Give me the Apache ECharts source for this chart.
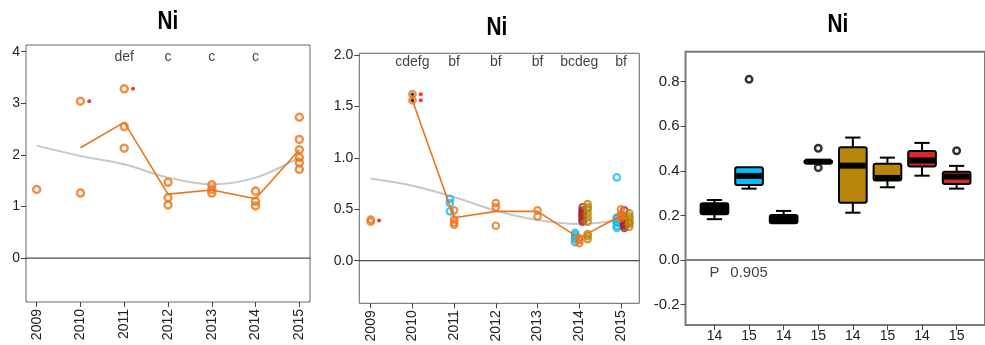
<!DOCTYPE html>
<html><head><meta charset="utf-8">
<script src="https://cdn.jsdelivr.net/npm/echarts@6/dist/echarts.min.js"></script>
<style>html,body{margin:0;padding:0;background:#fff}#c{width:985px;height:345px}</style>
</head><body><div id="c"></div><script>
// ---------- DATA ----------
const years = [2009, 2010, 2011, 2012, 2013, 2014, 2015];
// Panel 1
const p1Ticks = [0, 1, 2, 3, 4];
const p1Points = [[2009,1.33],[2010,3.04],[2010,1.26],[2011,3.28],[2011,2.55],[2011,2.13],
  [2012,1.47],[2012,1.17],[2012,1.03],[2013,1.42],[2013,1.33],[2013,1.26],
  [2014,1.30],[2014,1.10],[2014,1.01],[2015,2.73],[2015,2.30],[2015,2.10],[2015,1.95],[2015,1.85],[2015,1.72]];
const p1RedDots = [[2010,3.04],[2011,3.28]];
const p1Mean = [[2010,2.14],[2011,2.63],[2012,1.24],[2013,1.32],[2014,1.15],[2015,2.10]];
const p1Smooth = [[2009,2.18],[2010,1.98],[2011,1.82],[2012,1.56],[2013,1.43],[2014,1.56],[2015,1.95]];
const p1LetterYears = [2011, 2012, 2013, 2014];
const p1Letters = ['def', 'c', 'c', 'c'];
// Panel 2
const p2Ticks = [0, 0.5, 1.0, 1.5, 2.0];
const p2Orange = [[2009,0.38],[2009,0.40],[2010,1.62],[2010,1.56],[2011,0.49],[2011,0.40],[2011,0.37],[2011,0.35],
  [2012,0.56],[2012,0.52],[2012,0.34],[2013,0.49],[2013,0.43],[2014,0.22],[2014,0.20],[2014,0.17],
  [2015,0.50],[2015,0.45],[2015,0.44],[2015,0.44],[2015,0.415]];
const p2Blue = [[2011,0.60],[2011,0.56],[2011,0.48],[2014,0.27],[2014,0.25],[2014,0.23],[2014,0.21],[2014,0.18],
  [2015,0.81],[2015,0.42],[2015,0.41],[2015,0.38],[2015,0.37],[2015,0.34],[2015,0.32]];
const p2DarkRed = [[2014,0.38],[2014,0.40],[2014,0.42],[2014,0.44],[2014,0.45],[2014,0.47],[2014,0.49],[2014,0.52],
  [2015,0.49],[2015,0.42],[2015,0.40],[2015,0.37],[2015,0.36],[2015,0.35],[2015,0.34],[2015,0.32]];
const p2Gold = [[2014,0.55],[2014,0.52],[2014,0.50],[2014,0.46],[2014,0.42],[2014,0.38],[2014,0.26],[2014,0.24],[2014,0.21],
  [2015,0.46],[2015,0.43],[2015,0.41],[2015,0.38],[2015,0.37],[2015,0.36],[2015,0.33]];
const p2RedDots = [[2009,0.39],[2010,1.62],[2010,1.56]];
const p2BlackDots = [[2010,1.62],[2010,1.56]];
const p2Mean = [[2010,1.56],[2011,0.418],[2012,0.48],[2013,0.48],[2014,0.22],[2015,0.44]];
const p2Smooth = [[2009,0.80],[2010,0.73],[2011,0.62],[2012,0.486],[2013,0.396],[2014,0.357],[2015,0.396]];
const p2LetterYears = [2010, 2011, 2012, 2013, 2014, 2015];
const p2Letters = ['cdefg', 'bf', 'bf', 'bf', 'bcdeg', 'bf'];
// Panel 3
const p3Cats = ['14', '15', '14', '15', '14', '15', '14', '15'];
const p3Ticks = [-0.2, 0, 0.2, 0.4, 0.6, 0.8];
// [min, q1, median, q3, max]
const p3Box = [
  [0.183, 0.205, 0.230, 0.254, 0.269],
  [0.320, 0.336, 0.377, 0.416, 0.416],
  [0.165, 0.165, 0.185, 0.202, 0.220],
  [0.435, 0.436, 0.441, 0.447, 0.448],
  [0.212, 0.257, 0.423, 0.505, 0.549],
  [0.326, 0.356, 0.368, 0.431, 0.459],
  [0.378, 0.419, 0.446, 0.489, 0.525],
  [0.320, 0.341, 0.374, 0.396, 0.422]
];
const p3Outliers = [[2,0.81],[4,0.501],[4,0.414],[8,0.49]];
const p3Note = ['P', '0.905'];

// ---------- STYLE ----------
const FONT = '"Liberation Sans", Arial, sans-serif';
const ORANGE = '#EC7418', BLUE = '#1AB6EC', DRED = '#A8262E', GOLD = '#B8860B', RED = '#D42A2A';
const p3Fill = ['#000', '#00BFFF', '#000', '#000', GOLD, GOLD, RED, RED];
const offs = {blue: -0.1, orange: 0, dred: 0.08, gold: 0.2, red: 0.2};
const shift = (arr, d) => arr.map(([x, y]) => [x + d, y]);
const X1 = [2008.756, 2015.244], X2 = [2008.727, 2015.439], X3 = [0.163, 8.82];

const chart = echarts.init(document.getElementById('c'));

function xYearAxis(gi, r) {
  return {type:'value', gridIndex:gi, min:r[0], max:r[1],
    axisLine:{show:false, onZero:false}, splitLine:{show:false},
    axisTick:{show:true, length:5, lineStyle:{color:'#444'}, customValues: years},
    axisLabel:{rotate:90, margin:7, fontSize:14, color:'#222', fontFamily:FONT, customValues: years, formatter: v => String(Math.round(v))}};
}
function yAxis(gi, min, max, ticks, fmt, fs) {
  return {type:'value', gridIndex:gi, min, max,
    axisLine:{show:false, onZero:false}, splitLine:{show:false},
    axisTick:{show:true, length:5, lineStyle:{color:'#444'}, customValues: ticks},
    axisLabel:{margin:6, fontSize:fs, color:'#222', fontFamily:FONT, customValues: ticks, formatter: fmt}};
}
const ring = (color, size, bw) => ({type:'scatter', symbol:'circle', symbolSize:size,
  itemStyle:{color:'rgba(0,0,0,0)', borderColor:color, borderWidth:bw}, z:3});
const zeroSeries = (gi, r, color, w) => ({type:'line', xAxisIndex:gi, yAxisIndex:gi, silent:true, showSymbol:false,
  data:[[r[0], 0], [r[1], 0]], lineStyle:{color, width:w}, z:2});
const letterLabel = {show:true, position:'inside', fontSize:14, color:'#111', fontFamily:FONT, formatter: p => p.data.t};
const title = (x, y) => ({type:'text', x, y, scaleX:0.8, style:{text:'Ni', font:'bold 26px "Liberation Sans", Arial, sans-serif',
  fill:'#000', textAlign:'center', textVerticalAlign:'middle'}});

const option = {
  animation:false,
  backgroundColor:'#fff',
  graphic:[title(168, 22), title(497, 28), title(838, 25)],
  grid:[
    {left:26, top:45, width:284, height:257, show:true, borderColor:'#666', borderWidth:1, backgroundColor:'rgba(0,0,0,0)'},
    {left:359.3, top:53.3, width:280, height:250, show:true, borderColor:'#666', borderWidth:1, backgroundColor:'rgba(0,0,0,0)'},
    {left:685.5, top:51.7, width:305, height:273.3, show:true, borderColor:'#7a7a7a', borderWidth:2, backgroundColor:'rgba(0,0,0,0)'}
  ],
  xAxis:[
    xYearAxis(0, X1),
    xYearAxis(1, X2),
    {type:'value', gridIndex:2, min:X3[0], max:X3[1],
      axisLine:{show:false, onZero:false}, splitLine:{show:false},
      axisTick:{show:true, length:5, lineStyle:{color:'#444'}, customValues:[1,2,3,4,5,6,7,8]},
      axisLabel:{margin:4, fontSize:14, color:'#222', fontFamily:FONT, customValues:[1,2,3,4,5,6,7,8],
        formatter: v => p3Cats[Math.round(v) - 1] || ''}}
  ],
  yAxis:[
    yAxis(0, -0.85, 4.13, p1Ticks, v => String(Math.round(v)), 14),
    yAxis(1, -0.414, 2.017, p2Ticks, v => v.toFixed(1), 14),
    yAxis(2, -0.2916, 0.934, p3Ticks, v => v.toFixed(1), 15)
  ],
  series:[
    // ---- panel 1 ----
    zeroSeries(0, X1, '#222', 1),
    {type:'line', xAxisIndex:0, yAxisIndex:0, data:p1Smooth, smooth:0.35, showSymbol:false,
      lineStyle:{color:'#C8C8C8', width:2}, z:1},
    {type:'line', xAxisIndex:0, yAxisIndex:0, data:p1Mean, showSymbol:false, lineStyle:{color:ORANGE, width:1.6}, z:2},
    Object.assign(ring(ORANGE, 7, 2.5), {xAxisIndex:0, yAxisIndex:0, data:p1Points}),
    {type:'scatter', xAxisIndex:0, yAxisIndex:0, data:shift(p1RedDots, offs.red), symbolSize:4, itemStyle:{color:'#F00'}},
    {type:'scatter', xAxisIndex:0, yAxisIndex:0, symbolSize:1, itemStyle:{color:'rgba(0,0,0,0)'},
      data:p1LetterYears.map((yr, i) => ({value:[yr, 3.9], t:p1Letters[i]})), label:letterLabel},
    // ---- panel 2 ----
    zeroSeries(1, X2, '#222', 1),
    {type:'line', xAxisIndex:1, yAxisIndex:1, data:p2Smooth, smooth:0.35, showSymbol:false,
      lineStyle:{color:'#C8C8C8', width:2}, z:1},
    Object.assign(ring(BLUE, 6.5, 2.2), {xAxisIndex:1, yAxisIndex:1, data:shift(p2Blue, offs.blue)}),
    Object.assign(ring(DRED, 6.5, 2.2), {xAxisIndex:1, yAxisIndex:1, data:shift(p2DarkRed, offs.dred)}),
    Object.assign(ring(GOLD, 6.5, 2.2), {xAxisIndex:1, yAxisIndex:1, data:shift(p2Gold, offs.gold)}),
    {type:'line', xAxisIndex:1, yAxisIndex:1, data:p2Mean, showSymbol:false, lineStyle:{color:ORANGE, width:1.6}, z:4},
    Object.assign(ring(ORANGE, 6.5, 2.2), {xAxisIndex:1, yAxisIndex:1, data:shift(p2Orange, offs.orange), z:5}),
    {type:'scatter', xAxisIndex:1, yAxisIndex:1, data:p2BlackDots, symbolSize:3.5, itemStyle:{color:'#000'}, z:6},
    {type:'scatter', xAxisIndex:1, yAxisIndex:1, data:shift(p2RedDots, offs.red), symbolSize:4, itemStyle:{color:'#F00'}},
    {type:'scatter', xAxisIndex:1, yAxisIndex:1, symbolSize:1, itemStyle:{color:'rgba(0,0,0,0)'},
      data:p2LetterYears.map((yr, i) => ({value:[yr, 1.93], t:p2Letters[i]})), label:letterLabel},
    // ---- panel 3 ----
    zeroSeries(2, X3, '#808080', 2),
    {type:'custom', xAxisIndex:2, yAxisIndex:2, z:3,
      data:p3Box.map((b, i) => [i + 1].concat(b)),
      encode:{x:0, y:[1,2,3,4,5]},
      renderItem:(params, api) => {
        const i = params.dataIndex;
        const x = api.value(0);
        const lo = api.value(1), q1 = api.value(2), med = api.value(3), q3 = api.value(4), hi = api.value(5);
        const X = v => api.coord([v, 0])[0];
        const Y = v => api.coord([x, v])[1];
        const l = X(x - 0.4), r = X(x + 0.4), cx = X(x), cl = X(x - 0.22), cr = X(x + 0.22);
        const st = {stroke:'#000', lineWidth:2};
        const ch = [];
        if (hi > q3) {
          ch.push({type:'line', shape:{x1:cx, y1:Y(q3), x2:cx, y2:Y(hi)}, style:st});
          ch.push({type:'line', shape:{x1:cl, y1:Y(hi), x2:cr, y2:Y(hi)}, style:st});
        }
        if (lo < q1) {
          ch.push({type:'line', shape:{x1:cx, y1:Y(q1), x2:cx, y2:Y(lo)}, style:st});
          ch.push({type:'line', shape:{x1:cl, y1:Y(lo), x2:cr, y2:Y(lo)}, style:st});
        }
        ch.push({type:'rect', shape:{x:l, y:Y(q3), width:r - l, height:Math.max(Y(q1) - Y(q3), 3), r:2},
          style:{fill:p3Fill[i], stroke:'#000', lineWidth:2}});
        ch.push({type:'line', shape:{x1:l + 1, y1:Y(med), x2:r - 1, y2:Y(med)}, style:{stroke:'#000', lineWidth:6}});
        return {type:'group', children:ch};
      }},
    {type:'scatter', xAxisIndex:2, yAxisIndex:2, data:p3Outliers, symbol:'circle', symbolSize:6.5, z:4,
      itemStyle:{color:'#fff', borderColor:'#000', borderWidth:2.5}},
    {type:'scatter', xAxisIndex:2, yAxisIndex:2, symbolSize:1, itemStyle:{color:'rgba(0,0,0,0)'},
      data:p3Note.map((t, i) => ({value:[i + 1, -0.057], t})), label:Object.assign({}, letterLabel, {fontSize:15})}
  ]
};
chart.setOption(option);
</script></body></html>
